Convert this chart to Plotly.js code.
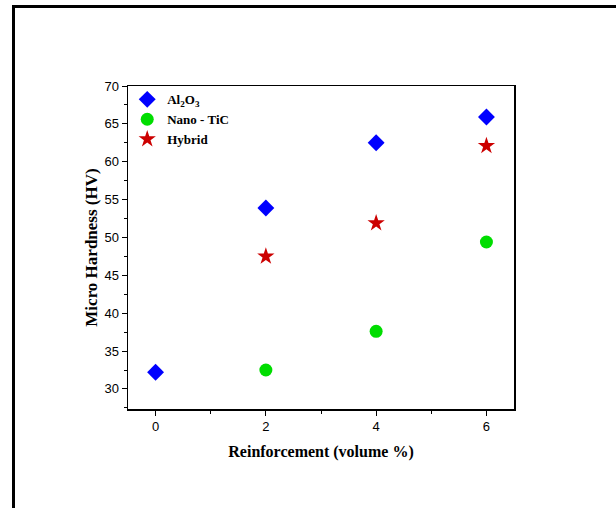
<!DOCTYPE html>
<html>
<head>
<meta charset="utf-8">
<script src="https://cdn.plot.ly/plotly-3.0.1.min.js"></script>
<style>
html,body{margin:0;padding:0;background:#fff;}
#wrap{position:relative;width:616px;height:508px;overflow:hidden;}
#frame{position:absolute;left:12px;top:5px;width:700px;height:600px;border-left:3px solid #000;border-top:3px solid #000;pointer-events:none;}
#chart{position:absolute;left:0;top:0;width:616px;height:508px;}
</style>
</head>
<body>
<div id="wrap">
<div id="chart"></div>
<div id="frame"></div>
</div>
<script>
const seriesNames = ["Al<sub>2</sub>O<sub>3</sub>", "Nano - TiC", "Hybrid"];
const al2o3X = [0, 2, 4, 6];
const al2o3Y = [32.2, 53.9, 62.5, 65.9];
const ticX = [2, 4, 6];
const ticY = [32.5, 37.6, 49.4];
const hybridX = [2, 4, 6];
const hybridY = [47.5, 51.9, 62.1];
const xTicks = [0, 2, 4, 6];
const yTicks = [30, 35, 40, 45, 50, 55, 60, 65, 70];

const traces = [
  {x: al2o3X, y: al2o3Y, name: seriesNames[0], type: 'scatter', mode: 'markers',
   marker: {symbol: 'diamond', size: 13, color: '#0000ff'}},
  {x: ticX, y: ticY, name: seriesNames[1], type: 'scatter', mode: 'markers',
   marker: {symbol: 'circle', size: 13, color: '#00dd00'}},
  {x: hybridX, y: hybridY, name: seriesNames[2], type: 'scatter', mode: 'markers',
   marker: {symbol: 'star', size: 13, color: '#cc0000'}}
];

const layout = {
  width: 616, height: 508,
  margin: {l: 128, r: 102, t: 86, b: 99},
  paper_bgcolor: 'rgba(0,0,0,0)', plot_bgcolor: '#fff',
  showlegend: true,
  legend: {x: -0.002, y: 1.005, xanchor: 'left', yanchor: 'top',
    bgcolor: 'rgba(0,0,0,0)', tracegroupgap: 0, itemwidth: 30,
    font: {family: 'Liberation Serif, Times New Roman, serif', size: 13, color: '#000', weight: 'bold'}},
  xaxis: {
    range: [-0.5, 6.5], tickvals: xTicks, ticktext: xTicks.map(String),
    ticks: 'outside', ticklen: 5, tickwidth: 1, tickcolor: '#000',
    showline: true, linecolor: '#000', linewidth: 1.5, mirror: true,
    showgrid: false, zeroline: false,
    minor: {dtick: 1, ticks: 'outside', ticklen: 3, tickcolor: '#000', showgrid: false},
    tickfont: {family: 'Liberation Sans, Arial, sans-serif', size: 13, color: '#000'},
    title: {text: 'Reinforcement (volume %)', standoff: 12,
      font: {family: 'Liberation Serif, Times New Roman, serif', size: 16, color: '#000', weight: 'bold'}}
  },
  yaxis: {
    range: [27.35, 70], tickvals: yTicks, ticktext: yTicks.map(String),
    ticks: 'outside', ticklen: 5, tickwidth: 1, tickcolor: '#000',
    showline: true, linecolor: '#000', linewidth: 1.5, mirror: true,
    showgrid: false, zeroline: false,
    minor: {dtick: 2.5, ticks: 'outside', ticklen: 3, tickcolor: '#000', showgrid: false},
    tickfont: {family: 'Liberation Sans, Arial, sans-serif', size: 13, color: '#000'},
    title: {text: 'Micro Hardness (HV)', standoff: 2,
      font: {family: 'Liberation Serif, Times New Roman, serif', size: 17, color: '#000', weight: 'bold'}}
  }
};

Plotly.newPlot('chart', traces, layout, {displayModeBar: false, staticPlot: true});
</script>
</body>
</html>
